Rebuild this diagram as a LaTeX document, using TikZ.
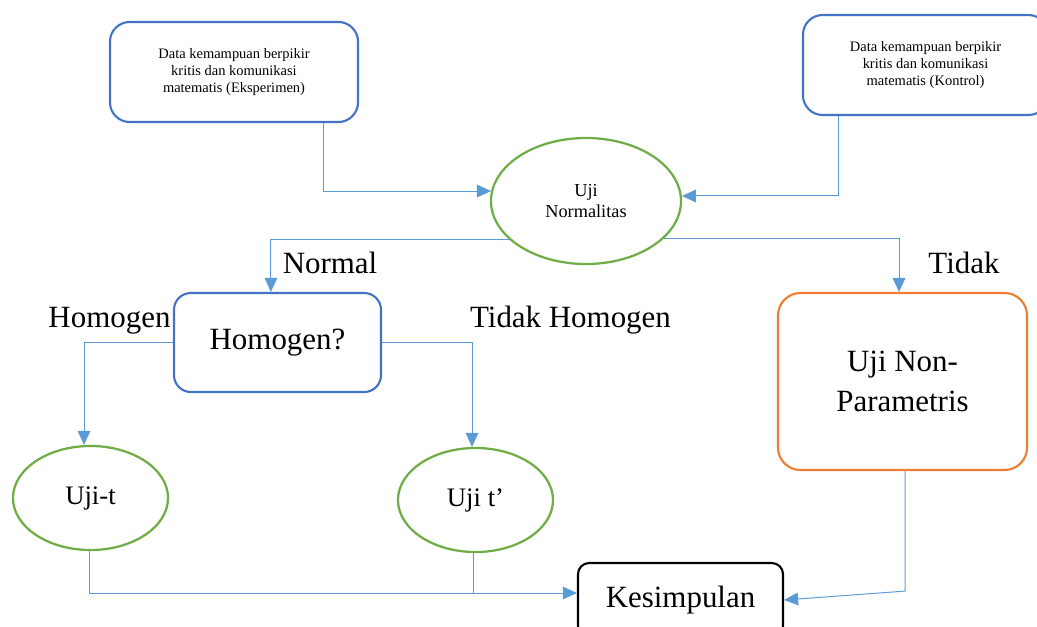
\documentclass[tikz,border=0pt]{standalone}
\usepackage{fontspec}
\setmainfont{Liberation Serif}
\usetikzlibrary{arrows.meta, positioning, calc, shapes.geometric}
\definecolor{boxc}{RGB}{68,114,196}
\definecolor{linec}{RGB}{91,155,213}
\definecolor{ovalc}{RGB}{112,173,71}
\definecolor{nonc}{RGB}{237,125,49}
\tikzset{
  box/.style={
    rectangle, rounded corners=14pt, draw=boxc, line width=1.5pt,
    fill=white, align=center, inner sep=2pt
  },
  datbox/.style={box, minimum width=6.2cm, minimum height=2.5cm,
                 font=\fontsize{10.3}{12.3}\selectfont},
  oval/.style={ellipse, draw=ovalc, line width=1.6pt, fill=white,
               align=center, inner sep=0pt},
  bigtxt/.style={font=\fontsize{22}{28}\selectfont},
  lbl/.style={font=\fontsize{22}{26}\selectfont, inner sep=0pt, anchor=base},
  arr/.style={-{Triangle[length=10pt, width=9pt]}, draw=linec, line width=0.7pt},
  conn/.style={draw=linec, line width=0.7pt},
}

\begin{document}
\begin{tikzpicture}[x=0.025cm, y=-0.025cm]

  \useasboundingbox (0,0) rectangle (1037,626);
  \clip (0,0) rectangle (1037,626);

  % the two data sets
  \node[datbox] (eks) at (234,72)
    {Data kemampuan berpikir\\kritis dan komunikasi\\matematis (Eksperimen)};
  \node[datbox, minimum width=6.125cm] (kon) at (925.5,65)
    {Data kemampuan berpikir\\kritis dan komunikasi\\matematis (Kontrol)};

  \node[oval, minimum width=4.75cm, minimum height=3.15cm,
        font=\fontsize{13}{14.5}\selectfont] (norm) at (586,201) {Uji\\Normalitas};

  \node[box, rounded corners=12pt, minimum width=5.175cm, minimum height=2.475cm,
        bigtxt] (homq) at (277.5,342.5) {Homogen?};
  \node[box, draw=nonc, rounded corners=16pt, minimum width=6.225cm,
        minimum height=4.425cm, bigtxt] (nonpar) at (902.5,381.5) {Uji Non-\\Parametris};

  \node[oval, minimum width=3.875cm, minimum height=2.6cm,
        font=\fontsize{19}{22}\selectfont] (ujit) at (90.5,498) {Uji-t};
  \node[oval, minimum width=3.875cm, minimum height=2.6cm,
        font=\fontsize{19}{22}\selectfont] (ujit2) at (475.5,500) {Uji t’};

  \node[box, draw=black, rounded corners=8pt, minimum width=5.125cm,
        minimum height=1.85cm, bigtxt] (kes) at (680.5,600) {Kesimpulan};

  % branch labels
  \node[lbl] (lnorm) at (330,273) {Normal};
  \node[lbl] (ltidak) at (964,273) {Tidak};
  \node[lbl] (lhom) at (109.5,327) {Homogen};
  \node[lbl] (lthom) at (570.5,327) {Tidak Homogen};

  \coordinate (kesin) at ($(kes.west)+(0,-7)$);
  \coordinate (bend) at ($(nonpar.south)+(2.5,120)$);
  \coordinate (tfoot) at ($(ujit2.south)+(-2.5,0)$);

  \draw[arr] ($(eks.south west)+(215,0)$) |- (norm.174);
  \draw[arr] ($(kon.south west)+(37,0)$) |- (norm.3);
  \draw[arr] (norm.207) -| ($(homq.north west)+(98,0)$);
  \draw[arr] (norm.-26) -| ($(nonpar.north)+(-3.5,0)$);
  \draw[arr] (homq.west) -| ($(ujit.north)+(-6.5,0)$);
  \draw[arr] (homq.east) -| ($(ujit2.north)+(-3.5,0)$);
  \draw[arr] ($(ujit.south)+(-1.5,0)$) |- (kesin);
  \draw[conn] (tfoot) -- (tfoot |- kesin);
  \draw[arr] (nonpar.south -| bend) -- (bend) -- (kes.east);

\end{tikzpicture}
\end{document}
